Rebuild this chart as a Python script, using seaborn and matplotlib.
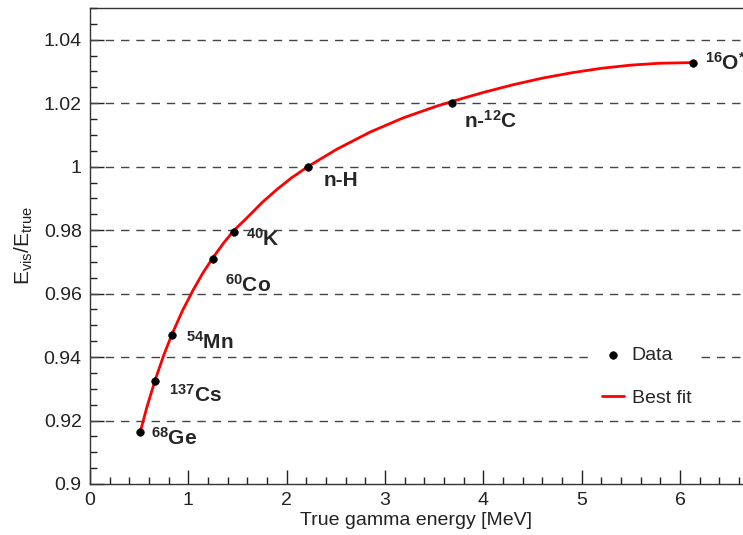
import numpy as np
import pandas as pd
import matplotlib
matplotlib.use('Agg')
import matplotlib.pyplot as plt
import seaborn as sns
from matplotlib.ticker import MultipleLocator, FuncFormatter

# datos
sources = ['68Ge', '137Cs', '54Mn', '60Co', '40K', 'n-H', 'n-12C', '16O*']
energy = [0.511, 0.662, 0.835, 1.25, 1.46, 2.22, 3.68, 6.13]
ratio = [0.9164, 0.9325, 0.947, 0.971, 0.9795, 1.000, 1.020, 1.0327]

labels = [r'$\mathbf{^{68}}$Ge', r'$\mathbf{^{137}}$Cs', r'$\mathbf{^{54}}$Mn',
          r'$\mathbf{^{60}}$Co', r'$\mathbf{^{40}}$K', 'n-H',
          r'n-$\mathbf{^{12}}$C', r'$\mathbf{^{16}}$O$\mathbf{^{*}}$']

# curva de mejor ajuste (leida punto a punto)
fit_x = [0.511, 0.58, 0.662, 0.75, 0.835, 0.94, 1.05, 1.15, 1.25, 1.36,
         1.46, 1.60, 1.75, 1.90, 2.05, 2.22, 2.51, 2.848, 3.187, 3.527,
         3.764, 4.0, 4.3, 4.6, 4.9, 5.2, 5.5, 5.8, 6.137]
fit_y = [0.9164, 0.9244, 0.9327, 0.9406, 0.9473, 0.9546, 0.9612, 0.9666, 0.9713, 0.9760,
         0.9798, 0.9840, 0.9887, 0.9928, 0.9965, 1.0001, 1.0055, 1.0109, 1.0154, 1.0191,
         1.0213, 1.0234, 1.0258, 1.0279, 1.0296, 1.0310, 1.0320, 1.0326, 1.0328]

# desplazamiento de cada etiqueta (en puntos)
offsets = [(8, -4), (10, -10), (10, -5), (9, -19), (9, -5), (11, -10), (9, -13), (9, 0)]

df = pd.DataFrame({'source': sources, 'energy': energy, 'ratio': ratio})
fit = pd.DataFrame({'energy': fit_x, 'ratio': fit_y})

sns.set_theme(style='white')
plt.rcParams['font.family'] = ['Liberation Sans', 'DejaVu Sans']
plt.rcParams['mathtext.fontset'] = 'custom'
plt.rcParams['mathtext.rm'] = 'Liberation Sans'
plt.rcParams['mathtext.it'] = 'Liberation Sans'
plt.rcParams['mathtext.bf'] = 'Liberation Sans:bold'

fig = plt.figure(figsize=(7.43, 5.35), dpi=100)
ax = fig.add_axes([90 / 743, 51 / 535, 653 / 743, 476 / 535])

sns.lineplot(data=fit, x='energy', y='ratio', ax=ax, color='#ff0000', lw=2,
             label='Best fit', zorder=3, sort=False)
sns.scatterplot(data=df, x='energy', y='ratio', ax=ax, color='black', s=30,
                edgecolor='black', label='Data', zorder=4)

for x, y, lab, off in zip(energy, ratio, labels, offsets):
    ax.annotate(lab, (x, y), xytext=off, textcoords='offset points',
                fontsize=15, fontweight='bold', ha='left', va='center')

ax.set_xlim(0, 6.64)
ax.set_ylim(0.9, 1.05)
ax.xaxis.set_major_locator(MultipleLocator(1))
ax.xaxis.set_minor_locator(MultipleLocator(0.2))
ax.yaxis.set_major_locator(MultipleLocator(0.02))
ax.yaxis.set_minor_locator(MultipleLocator(0.005))
ax.yaxis.set_major_formatter(FuncFormatter(lambda v, p: '%g' % round(v, 3)))
ax.tick_params(which='both', direction='in', labelsize=14, colors='#222222',
               left=True, bottom=True, top=False, right=False)
ax.tick_params(which='major', length=10, width=1, pad=6)
ax.tick_params(which='minor', length=5, width=1)
for t in ax.get_xticklabels() + ax.get_yticklabels():
    t.set_color('#222222')

for y in [0.92, 0.94, 0.96, 0.98, 1.0, 1.02, 1.04]:
    ax.axhline(y, color='#444444', ls=(0, (6, 5)), lw=1, zorder=1)

ax.spines['right'].set_visible(False)
for s in ['left', 'bottom', 'top']:
    ax.spines[s].set_color('#333333')
    ax.spines[s].set_linewidth(1)

ax.set_xlabel('True gamma energy [MeV]', fontsize=14, color='#222222', labelpad=2)
ax.set_ylabel(r'E$_{\mathregular{vis}}$/E$_{\mathregular{true}}$', fontsize=15,
              loc='center', color='#222222', labelpad=6)

# orden: Data primero
h, l = ax.get_legend_handles_labels()
leg = ax.legend([h[1], h[0]], [l[1], l[0]], loc='upper left', bbox_to_anchor=(0.755, 0.33),
                fontsize=14, frameon=True, framealpha=1, edgecolor='none',
                facecolor='white', handlelength=1.1, labelspacing=1.3,
                handletextpad=0.4, borderpad=0.5, fancybox=False)
leg.set_zorder(5)

fig.savefig('out.png', dpi=100)
